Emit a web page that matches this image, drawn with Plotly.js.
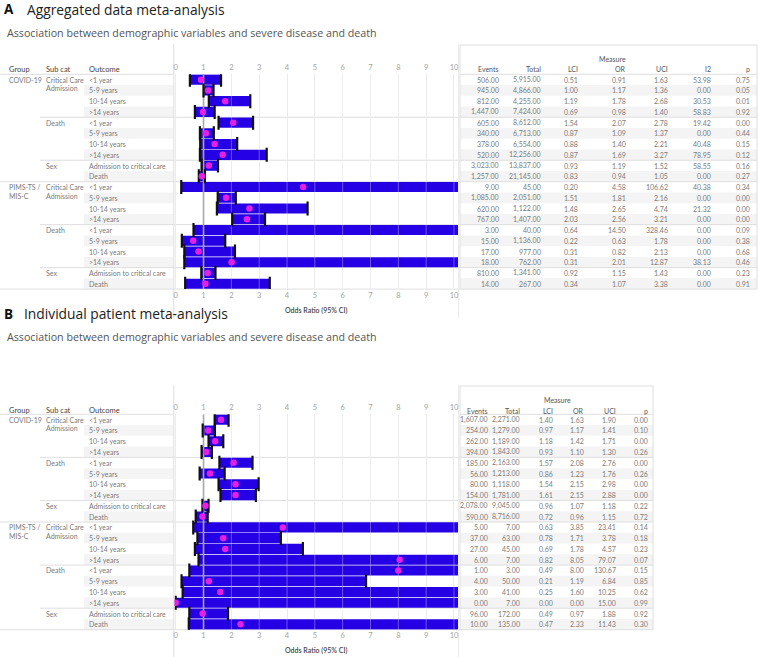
<!DOCTYPE html>
<html><head><meta charset="utf-8">
<script src="https://cdn.plot.ly/plotly-3.0.1.min.js"></script>
<style>body{margin:0;background:#fff}#chart{width:759px;height:657px}</style>
</head><body><div id="chart"></div>
<script>
// ---------- DATA ----------
const outcomes = ["<1 year","5-9 years","10-14 years",">14 years","<1 year","5-9 years","10-14 years",">14 years","Admission to critical care","Death",
                  "<1 year","5-9 years","10-14 years",">14 years","<1 year","5-9 years","10-14 years",">14 years","Admission to critical care","Death"];
const groups = [["COVID-19"],["PIMS-TS /","MIS-C"]];
const groupRows = [0,10];
const subcats = [["Critical Care","Admission"],["Death"],["Sex"],["Critical Care","Admission"],["Death"],["Sex"]];
const subcatRows = [0,4,8,10,14,18];
const colsA = ["Events","Total","LCI","OR","UCI","I2","p"];
const colsB = ["Events","Total","LCI","OR","UCI","p"];
const ticks = [0,1,2,3,4,5,6,7,8,9,10];

// Panel A: aggregated data meta-analysis
const A_events = [506,945,812,1447,605,340,378,520,3023,1257,9,1085,620,767,3,15,17,18,810,14];
const A_total  = [5915,4866,4255,7424,8612,6713,6554,12256,13837,21145,45,2051,1122,1407,40,1136,977,762,1341,267];
const A_lci    = [0.51,1.00,1.19,0.69,1.54,0.87,0.88,0.87,0.93,0.83,0.20,1.51,1.48,2.03,0.64,0.22,0.31,0.31,0.92,0.34];
const A_or     = [0.91,1.17,1.78,0.98,2.07,1.09,1.40,1.69,1.19,0.94,4.58,1.81,2.65,2.56,14.50,0.63,0.82,2.01,1.15,1.07];
const A_uci    = [1.63,1.36,2.68,1.40,2.78,1.37,2.21,3.27,1.52,1.05,106.62,2.16,4.74,3.21,328.46,1.78,2.13,12.87,1.43,3.38];
const A_i2     = [53.98,0,30.53,58.83,19.42,0,40.48,78.95,58.55,0,40.38,0,21.32,0,0,0,0,38.13,0,0];
const A_p      = [0.75,0.05,0.01,0.92,0.00,0.44,0.15,0.12,0.16,0.27,0.34,0.00,0.00,0.00,0.09,0.38,0.68,0.46,0.23,0.91];

// Panel B: individual patient meta-analysis
const B_events = [1607,254,262,394,185,56,80,154,2078,590,5,37,27,6,1,4,3,0,96,10];
const B_total  = [2271,1279,1189,1843,2163,1213,1118,1781,9045,8716,7,63,45,7,3,50,41,7,172,135];
const B_lci    = [1.40,0.97,1.18,0.93,1.57,0.86,1.54,1.61,0.96,0.72,0.63,0.78,0.69,0.82,0.49,0.21,0.25,0.00,0.49,0.47];
const B_or     = [1.63,1.17,1.42,1.10,2.08,1.23,2.15,2.15,1.07,0.96,3.85,1.71,1.78,8.05,8.00,1.19,1.60,0.00,0.97,2.33];
const B_uci    = [1.90,1.41,1.71,1.30,2.76,1.76,2.98,2.88,1.18,1.15,23.41,3.78,4.57,79.07,130.67,6.84,10.25,15.00,1.88,11.43];
const B_p      = [0.00,0.10,0.00,0.26,0.00,0.26,0.00,0.00,0.22,0.72,0.14,0.18,0.23,0.07,0.15,0.85,0.62,0.99,0.92,0.30];

// ---------- STYLE / GEOMETRY ----------
const W = 759, H = 657;
const FONT = "Lato, 'Open Sans', sans-serif";
const TFONT = "'Open Sans', Lato, sans-serif";
const BLUE = "rgb(38,0,228)", PINK = "rgb(228,32,228)";
const X = px => px / W, Y = py => 1 - py / H;
const rowIdx = outcomes.map((_, i) => i);
const fmt = v => v.toLocaleString('en-US', {minimumFractionDigits: 2, maximumFractionDigits: 2});
const esc = s => s.replace(/</g, '&lt;').replace(/>/g, '&gt;');

const panels = [
  {key: 'A', xa: 'x', xb: 'x3', ya: 'y', top: 74.3, bot: 289.1, boxTop: 44, boxBot: 318, headY: 69.5, measY: 59.5,
   lci: A_lci, or: A_or, uci: A_uci,
   cols: colsA, colX: [500.7, 543, 580, 627.7, 670, 713, 752], tblR: 757,
   vals: [A_events, A_total, A_lci, A_or, A_uci, A_i2, A_p], measX: 612, axTitleY: 311},
  {key: 'B', xa: 'x2', xb: 'x4', ya: 'y2', top: 414.3, bot: 629.7, boxTop: 385, boxBot: 657, headY: 410.5, measY: 400,
   lci: B_lci, or: B_or, uci: B_uci,
   cols: colsB, colX: [490, 521.7, 555, 586, 618.3, 650], tblR: 653,
   vals: [B_events, B_total, B_lci, B_or, B_uci, B_p], measX: 557, axTitleY: 650.5}
];

const traces = [], annotations = [], shapes = [];
const textAnn = (x, y, text, opts) => Object.assign({xref: 'paper', yref: 'paper', x: X(x), y: Y(y), text: text,
  showarrow: false, xanchor: 'left', yanchor: 'middle', font: {family: FONT, size: 7, color: '#7a7a7a'}}, opts || {});
const hline = (x0, x1, y, color) => ({type: 'line', xref: 'paper', yref: 'paper', x0: X(x0), x1: X(x1), y0: Y(y), y1: Y(y),
  line: {color: color || '#dedede', width: 1}, layer: 'below'});
const vline = (x, y0, y1, color) => ({type: 'line', xref: 'paper', yref: 'paper', x0: X(x), x1: X(x), y0: Y(y0), y1: Y(y1),
  line: {color: color || '#dedede', width: 1}, layer: 'below'});

const layout = {
  width: W, height: H, margin: {l: 0, r: 0, t: 0, b: 0}, paper_bgcolor: '#fff', plot_bgcolor: 'rgba(0,0,0,0)',
  showlegend: false, font: {family: FONT}, hovermode: false, bargap: 0.06
};

const xCommon = {range: [-0.043, 10.144], tickvals: ticks, ticktext: ticks.map(String), ticks: '', showline: false,
  zeroline: false, fixedrange: true, tickfont: {family: FONT, size: 7.5, color: '#a3a3a3'}};

panels.forEach((P, pi) => {
  const h = (P.bot - P.top) / 20;
  const rc = i => P.top + (i + 0.5) * h;
  const dom = [Y(P.bot), Y(P.top)];
  const xNum = pi === 0 ? '' : '2';
  const xNumB = pi === 0 ? '3' : '4';
  const yName = pi === 0 ? 'yaxis' : 'yaxis2';
  layout['xaxis' + xNum] = Object.assign({}, xCommon, {domain: [X(174.5), X(458)], anchor: P.ya, side: 'top',
    showgrid: true, gridcolor: '#e6e6e6', gridwidth: 1, ticklabelstandoff: 2});
  layout['xaxis' + xNumB] = Object.assign({}, xCommon, {overlaying: P.xa, anchor: P.ya, side: 'bottom',
    showgrid: false, ticklabelstandoff: 0});
  layout[yName] = {domain: dom, range: [19.5, -0.5], visible: false, fixedrange: true};

  // bands (odd rows)
  rowIdx.forEach(i => {
    if (i % 2 === 1) {
      [[84, 173.5], [460, P.tblR]].forEach(([a, b]) => shapes.push({type: 'rect', xref: 'paper', yref: 'paper',
        x0: X(a), x1: X(b), y0: Y(rc(i) - h / 2), y1: Y(rc(i) + h / 2), fillcolor: '#f4f4f4', line: {width: 0}, layer: 'below'}));
    }
  });
  // separators
  shapes.push(hline(0, 173.5, P.top));
  shapes.push(hline(460, P.tblR, P.top));
  subcatRows.concat([20]).forEach(r => {
    if (r === 0) return;
    const y = P.top + r * h;
    const full = (r === 10 || r === 20);
    shapes.push(hline(full ? 0 : 40, P.tblR, y));
  });
  // plot frame & table frame
  shapes.push(vline(173.8, P.boxTop, P.boxBot));
  shapes.push(vline(458.5, P.boxTop, P.boxBot, '#ececec'));
  shapes.push(vline(460, P.boxTop + 1, P.bot));
  shapes.push(vline(P.tblR, P.boxTop + 1, P.bot));
  shapes.push(hline(460, P.tblR, P.boxTop + 1));

  // bars (CI)
  traces.push({type: 'bar', orientation: 'h', xaxis: P.xa, yaxis: P.ya, y: rowIdx,
    base: P.lci, x: P.uci.map((u, i) => u - P.lci[i]), width: 0.94,
    marker: {color: BLUE, line: {width: 0}}, hoverinfo: 'skip'});
  // light gridlines over bars
  const gx = [], gy = [];
  ticks.forEach(t => { gx.push(t, t, null); gy.push(-0.5, 19.5, null); });
  traces.push({type: 'scatter', mode: 'lines', xaxis: P.xa, yaxis: P.ya, x: gx, y: gy,
    line: {color: 'rgba(255,255,255,0.32)', width: 1}, hoverinfo: 'skip'});
  // reference line OR = 1
  traces.push({type: 'scatter', mode: 'lines', xaxis: P.xa, yaxis: P.ya, x: [1, 1], y: [-0.5, 19.5],
    line: {color: '#a8a8a8', width: 1.6}, hoverinfo: 'skip'});
  // CI end caps
  traces.push({type: 'scatter', mode: 'markers', xaxis: P.xa, yaxis: P.ya, x: P.lci.concat(P.uci), y: rowIdx.concat(rowIdx),
    marker: {symbol: 'line-ns', size: 10, line: {color: '#111', width: 2.2}}, hoverinfo: 'skip'});
  // OR points (on the overlaid bottom axis so they sit on top)
  traces.push({type: 'scatter', mode: 'markers', xaxis: P.xb, yaxis: P.ya, x: P.or, y: rowIdx,
    marker: {color: PINK, size: 6.5, line: {width: 0}}, hoverinfo: 'skip'});

  // headers
  [['Group', 7], ['Sub cat', 44], ['Outcome', 87]].forEach(([t, x]) =>
    annotations.push(textAnn(x, P.headY, t, {font: {family: FONT, size: 7.5, color: '#444'}})));
  // group labels
  groups.forEach((lines, gi) => lines.forEach((t, li) =>
    annotations.push(textAnn(7, rc(groupRows[gi]) + li * 8.7, esc(t)))));
  subcats.forEach((lines, si) => lines.forEach((t, li) =>
    annotations.push(textAnn(44, rc(subcatRows[si]) + li * 8.7, esc(t)))));
  outcomes.forEach((t, i) => annotations.push(textAnn(87, rc(i), esc(t))));

  // table
  annotations.push(textAnn(P.measX, P.measY, 'Measure', {xanchor: 'center', font: {family: FONT, size: 7, color: '#555'}}));
  P.cols.forEach((c, ci) => {
    annotations.push(textAnn(P.colX[ci], P.headY, c, {xanchor: 'right', font: {family: FONT, size: 7, color: '#555'}}));
    P.vals[ci].forEach((v, i) => annotations.push(textAnn(P.colX[ci], rc(i), fmt(v), {xanchor: 'right',
      font: {family: FONT, size: 7, color: '#7a7a7a'}})));
  });
  // axis title
  annotations.push(textAnn(316, P.axTitleY, 'Odds Ratio (95% CI)', {xanchor: 'center',
    font: {family: FONT, size: 7, color: '#444', weight: 600}}));
});

// titles
annotations.push(textAnn(1.5, 9.5, '<b>A</b>', {font: {family: TFONT, size: 13.5, color: '#111'}}));
annotations.push(textAnn(25, 9.5, 'Aggregated data meta-analysis', {font: {family: TFONT, size: 13.8, color: '#222'}}));
annotations.push(textAnn(5, 32.5, 'Association between demographic variables and severe disease and death', {font: {family: TFONT, size: 10.7, color: '#555'}}));
annotations.push(textAnn(2, 313.5, '<b>B</b>', {font: {family: TFONT, size: 13.5, color: '#111'}}));
annotations.push(textAnn(22, 313.5, 'Individual patient meta-analysis', {font: {family: TFONT, size: 13.8, color: '#222'}}));
annotations.push(textAnn(5, 337, 'Association between demographic variables and severe disease and death', {font: {family: TFONT, size: 10.7, color: '#555'}}));

layout.annotations = annotations;
layout.shapes = shapes;
Plotly.newPlot('chart', traces, layout, {staticPlot: true, displayModeBar: false});
</script>
</body></html>
